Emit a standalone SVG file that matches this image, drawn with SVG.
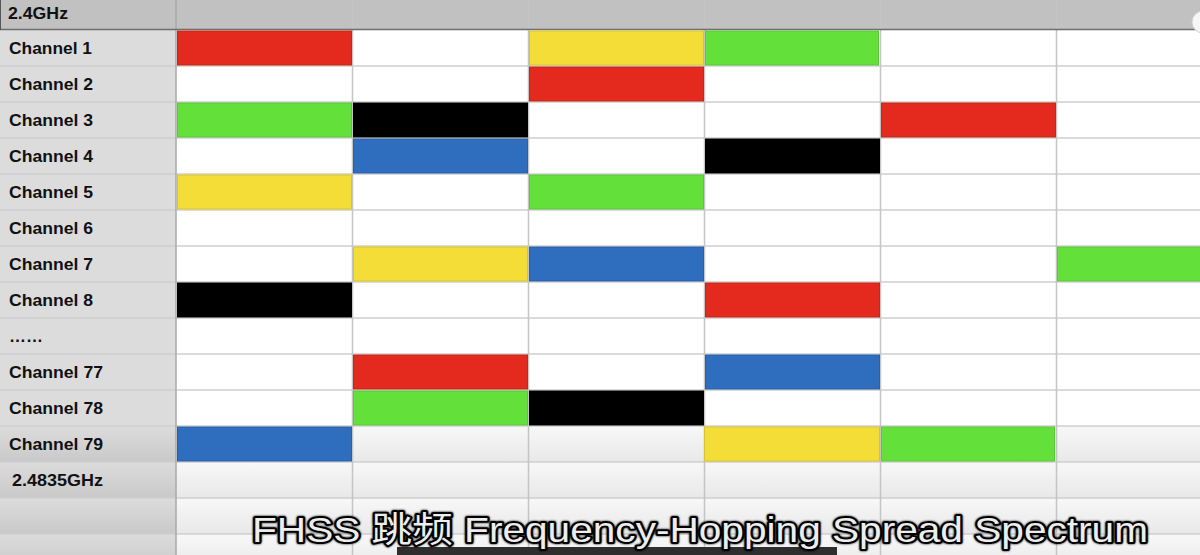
<svg xmlns="http://www.w3.org/2000/svg" width="1200" height="555" viewBox="0 0 1200 555">
<style>
.lbl{font-family:"Liberation Sans",Arial,sans-serif;font-weight:bold;font-size:17px;fill:#111}
.cell{stroke-width:1}
.r{fill:#E42A1E;stroke:#C82418}
.g{fill:#63E03A;stroke:#58C834}
.y{fill:#F4DD36;stroke:#D8C430}
.b{fill:#2F6DBE;stroke:#2A60A8}
.k{fill:#000;stroke:#000}
.hl{stroke:#CFCFCF;stroke-width:1.5}
.vl{stroke:#C4C4C4;stroke-width:1.5}
.sub{font-family:"Liberation Sans","Noto Sans CJK SC",sans-serif;font-size:35px;fill:#EDEDED;stroke:#000;stroke-width:4;stroke-linejoin:round;paint-order:stroke}
</style>
<defs>
<linearGradient id="gcell" x1="0" y1="0" x2="0" y2="1">
<stop offset="0" stop-color="#F8F8F8"/><stop offset="1" stop-color="#E8E8E8"/>
</linearGradient>
<linearGradient id="glab" x1="0" y1="0" x2="0" y2="1">
<stop offset="0" stop-color="#DCDCDC"/><stop offset="1" stop-color="#C9C9C9"/>
</linearGradient>
<filter id="glow" x="-5%" y="-30%" width="110%" height="160%">
<feGaussianBlur stdDeviation="1.2"/>
</filter>
</defs>

<g id="background">
<rect x="0" y="0" width="1200" height="555" fill="#FFFFFF"/>
<rect x="0" y="0" width="1200" height="30" fill="#C0C1C0"/>
<rect x="0" y="30" width="176" height="396" fill="#DCDCDC"/>
<rect x="0" y="426" width="176" height="36" fill="url(#glab)"/>
<rect x="0" y="462" width="176" height="36" fill="url(#glab)"/>
<rect x="0" y="498" width="176" height="36" fill="url(#glab)"/>
<rect x="0" y="534" width="176" height="36" fill="url(#glab)"/>
<rect x="176" y="426" width="1024" height="36" fill="url(#gcell)"/>
<rect x="176" y="462" width="1024" height="36" fill="url(#gcell)"/>
<rect x="176" y="498" width="1024" height="36" fill="url(#gcell)"/>
<rect x="176" y="534" width="1024" height="36" fill="url(#gcell)"/>
</g>

<g id="grid">
<line class="hl" x1="0" y1="66" x2="1200" y2="66"/>
<line class="hl" x1="0" y1="102" x2="1200" y2="102"/>
<line class="hl" x1="0" y1="138" x2="1200" y2="138"/>
<line class="hl" x1="0" y1="174" x2="1200" y2="174"/>
<line class="hl" x1="0" y1="210" x2="1200" y2="210"/>
<line class="hl" x1="0" y1="246" x2="1200" y2="246"/>
<line class="hl" x1="0" y1="282" x2="1200" y2="282"/>
<line class="hl" x1="0" y1="318" x2="1200" y2="318"/>
<line class="hl" x1="0" y1="354" x2="1200" y2="354"/>
<line class="hl" x1="0" y1="390" x2="1200" y2="390"/>
<line class="hl" x1="0" y1="426" x2="1200" y2="426"/>
<line class="hl" x1="0" y1="462" x2="1200" y2="462"/>
<line class="hl" x1="0" y1="498" x2="1200" y2="498"/>
<line class="hl" x1="0" y1="534" x2="1200" y2="534"/>
<line x1="176" y1="0" x2="176" y2="555" stroke="#A8A8A8" stroke-width="1.5"/>
<line class="vl" x1="352.5" y1="0" x2="352.5" y2="555"/>
<line class="vl" x1="528.5" y1="0" x2="528.5" y2="555"/>
<line class="vl" x1="704.5" y1="0" x2="704.5" y2="555"/>
<line class="vl" x1="880.5" y1="0" x2="880.5" y2="555"/>
<line class="vl" x1="1056.5" y1="0" x2="1056.5" y2="555"/>
<line x1="0" y1="29.5" x2="1200" y2="29.5" stroke="#6E6E6E" stroke-width="1.5"/>
<line x1="0.5" y1="0" x2="0.5" y2="30" stroke="#555" stroke-width="1"/>
<circle cx="1203" cy="22" r="11" fill="#F6F6F6" stroke="#D0D0D0" stroke-width="1"/>
</g>

<g id="labels">
<text class="lbl" x="8" y="18.5" font-size="16" textLength="60" lengthAdjust="spacingAndGlyphs">2.4GHz</text>
<text class="lbl" x="9" y="54" textLength="83" lengthAdjust="spacingAndGlyphs">Channel 1</text>
<text class="lbl" x="9" y="90" textLength="84" lengthAdjust="spacingAndGlyphs">Channel 2</text>
<text class="lbl" x="9" y="126" textLength="84" lengthAdjust="spacingAndGlyphs">Channel 3</text>
<text class="lbl" x="9" y="162" textLength="84" lengthAdjust="spacingAndGlyphs">Channel 4</text>
<text class="lbl" x="9" y="198" textLength="84" lengthAdjust="spacingAndGlyphs">Channel 5</text>
<text class="lbl" x="9" y="234" textLength="84" lengthAdjust="spacingAndGlyphs">Channel 6</text>
<text class="lbl" x="9" y="270" textLength="84" lengthAdjust="spacingAndGlyphs">Channel 7</text>
<text class="lbl" x="9" y="306" textLength="84" lengthAdjust="spacingAndGlyphs">Channel 8</text>
<text class="lbl" x="9" y="342">……</text>
<text class="lbl" x="9" y="378" textLength="94" lengthAdjust="spacingAndGlyphs">Channel 77</text>
<text class="lbl" x="9" y="414" textLength="94" lengthAdjust="spacingAndGlyphs">Channel 78</text>
<text class="lbl" x="9" y="450" textLength="94" lengthAdjust="spacingAndGlyphs">Channel 79</text>
<text class="lbl" x="12" y="486" textLength="91" lengthAdjust="spacingAndGlyphs">2.4835GHz</text>
</g>

<g id="hops">
<rect class="cell r" x="177.5" y="31" width="174" height="34"/>
<rect class="cell y" x="529.5" y="31" width="174" height="34"/>
<rect class="cell g" x="705.5" y="31" width="173" height="34"/>
<rect class="cell r" x="529.5" y="67" width="174" height="34"/>
<rect class="cell g" x="177.5" y="103" width="174" height="34"/>
<rect class="cell k" x="353.5" y="103" width="174" height="34"/>
<rect class="cell r" x="881.5" y="103" width="174" height="34"/>
<rect class="cell b" x="353.5" y="139" width="174" height="34"/>
<rect class="cell k" x="705.5" y="139" width="174" height="34"/>
<rect class="cell y" x="177.5" y="175" width="174" height="34"/>
<rect class="cell g" x="529.5" y="175" width="174" height="34"/>
<rect class="cell y" x="353.5" y="247" width="174" height="34"/>
<rect class="cell b" x="529.5" y="247" width="174" height="34"/>
<rect class="cell g" x="1057.5" y="247" width="143" height="34"/>
<rect class="cell k" x="177.5" y="283" width="174" height="34"/>
<rect class="cell r" x="705.5" y="283" width="174" height="34"/>
<rect class="cell r" x="353.5" y="355" width="174" height="34"/>
<rect class="cell b" x="705.5" y="355" width="174" height="34"/>
<rect class="cell g" x="353.5" y="391" width="174" height="34"/>
<rect class="cell k" x="529.5" y="391" width="174" height="34"/>
<rect class="cell b" x="177.5" y="427" width="174" height="34"/>
<rect class="cell y" x="704.5" y="427" width="175" height="34"/>
<rect class="cell g" x="881.5" y="427" width="173" height="34"/>
</g>

<g id="subtitle">
<rect x="397" y="547" width="440" height="8" fill="#2E2E2E"/>
<text class="sub" x="252" y="542" textLength="896" lengthAdjust="spacingAndGlyphs" filter="url(#glow)" fill="#000" stroke-width="6">FHSS 跳频 Frequency-Hopping Spread Spectrum</text>
<text class="sub" x="252" y="542" textLength="896" lengthAdjust="spacingAndGlyphs">FHSS 跳频 Frequency-Hopping Spread Spectrum</text>
</g>
</svg>
